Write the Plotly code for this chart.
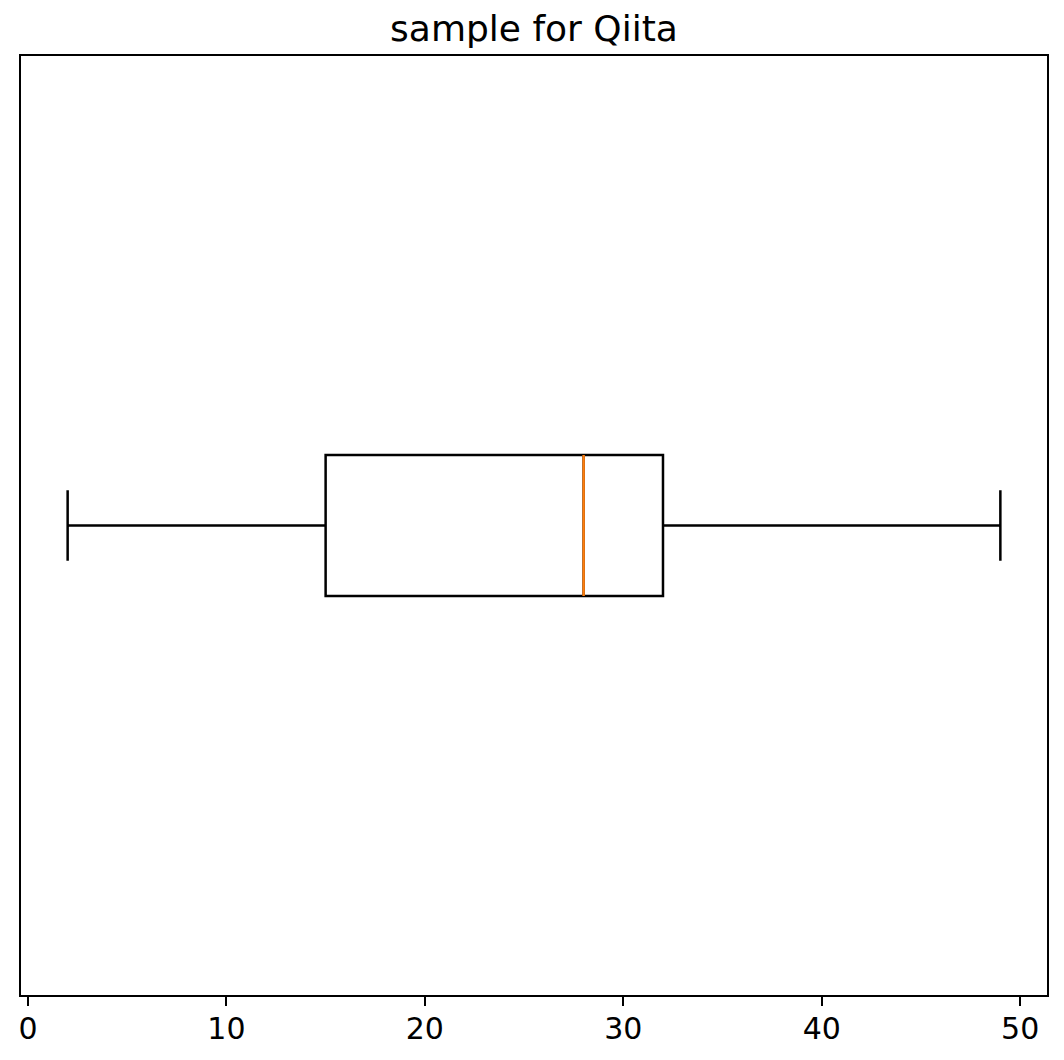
import plotly.graph_objects as go

# Data
positions = [1]
lower_fence = [2]
q1_vals = [15]
median_vals = [28]
q3_vals = [32]
upper_fence = [49]
x_ticks = [0, 10, 20, 30, 40, 50]
title_text = "sample for Qiita"

fig = go.Figure()

# Main box (black outline, white fill)
fig.add_trace(go.Box(
    orientation="h",
    y=positions,
    q1=q1_vals,
    median=median_vals,
    q3=q3_vals,
    lowerfence=lower_fence,
    upperfence=upper_fence,
    width=0.15,
    whiskerwidth=0.5,
    line=dict(color="black", width=2.5),
    fillcolor="white",
    boxpoints=False,
    showlegend=False,
    hoverinfo="skip",
))

# Orange median line overlay (degenerate box at the median)
fig.add_trace(go.Box(
    orientation="h",
    y=positions,
    q1=median_vals,
    median=median_vals,
    q3=median_vals,
    lowerfence=median_vals,
    upperfence=median_vals,
    width=0.15,
    whiskerwidth=0.0,
    line=dict(color="#ff7f0e", width=2.5),
    fillcolor="rgba(0,0,0,0)",
    boxpoints=False,
    showlegend=False,
    hoverinfo="skip",
))

fig.update_layout(
    width=1064,
    height=1060,
    boxmode="overlay",
    paper_bgcolor="white",
    plot_bgcolor="white",
    margin=dict(l=10, r=25, t=48, b=73),
    font=dict(family="DejaVu Sans", color="black"),
    title=dict(
        text=title_text,
        x=0.5,
        xanchor="center",
        xref="paper",
        yref="container",
        y=1 - 20 / 1060,
        yanchor="middle",
        font=dict(size=36, color="black", family="DejaVu Sans"),
    ),
    xaxis=dict(
        range=[-0.35, 51.35],
        tickmode="array",
        tickvals=x_ticks,
        ticktext=[str(t) for t in x_ticks],
        ticks="outside",
        ticklen=9,
        tickwidth=2,
        tickcolor="black",
        ticklabelstandoff=-3,
        tickfont=dict(size=30, color="black", family="DejaVu Sans"),
        showgrid=False,
        zeroline=False,
        showline=True,
        linecolor="black",
        linewidth=2,
        mirror=True,
    ),
    yaxis=dict(
        range=[0.5, 1.5],
        showticklabels=False,
        ticks="",
        showgrid=False,
        zeroline=False,
        showline=True,
        linecolor="black",
        linewidth=2,
        mirror=True,
    ),
)

fig.write_html("out.html")
